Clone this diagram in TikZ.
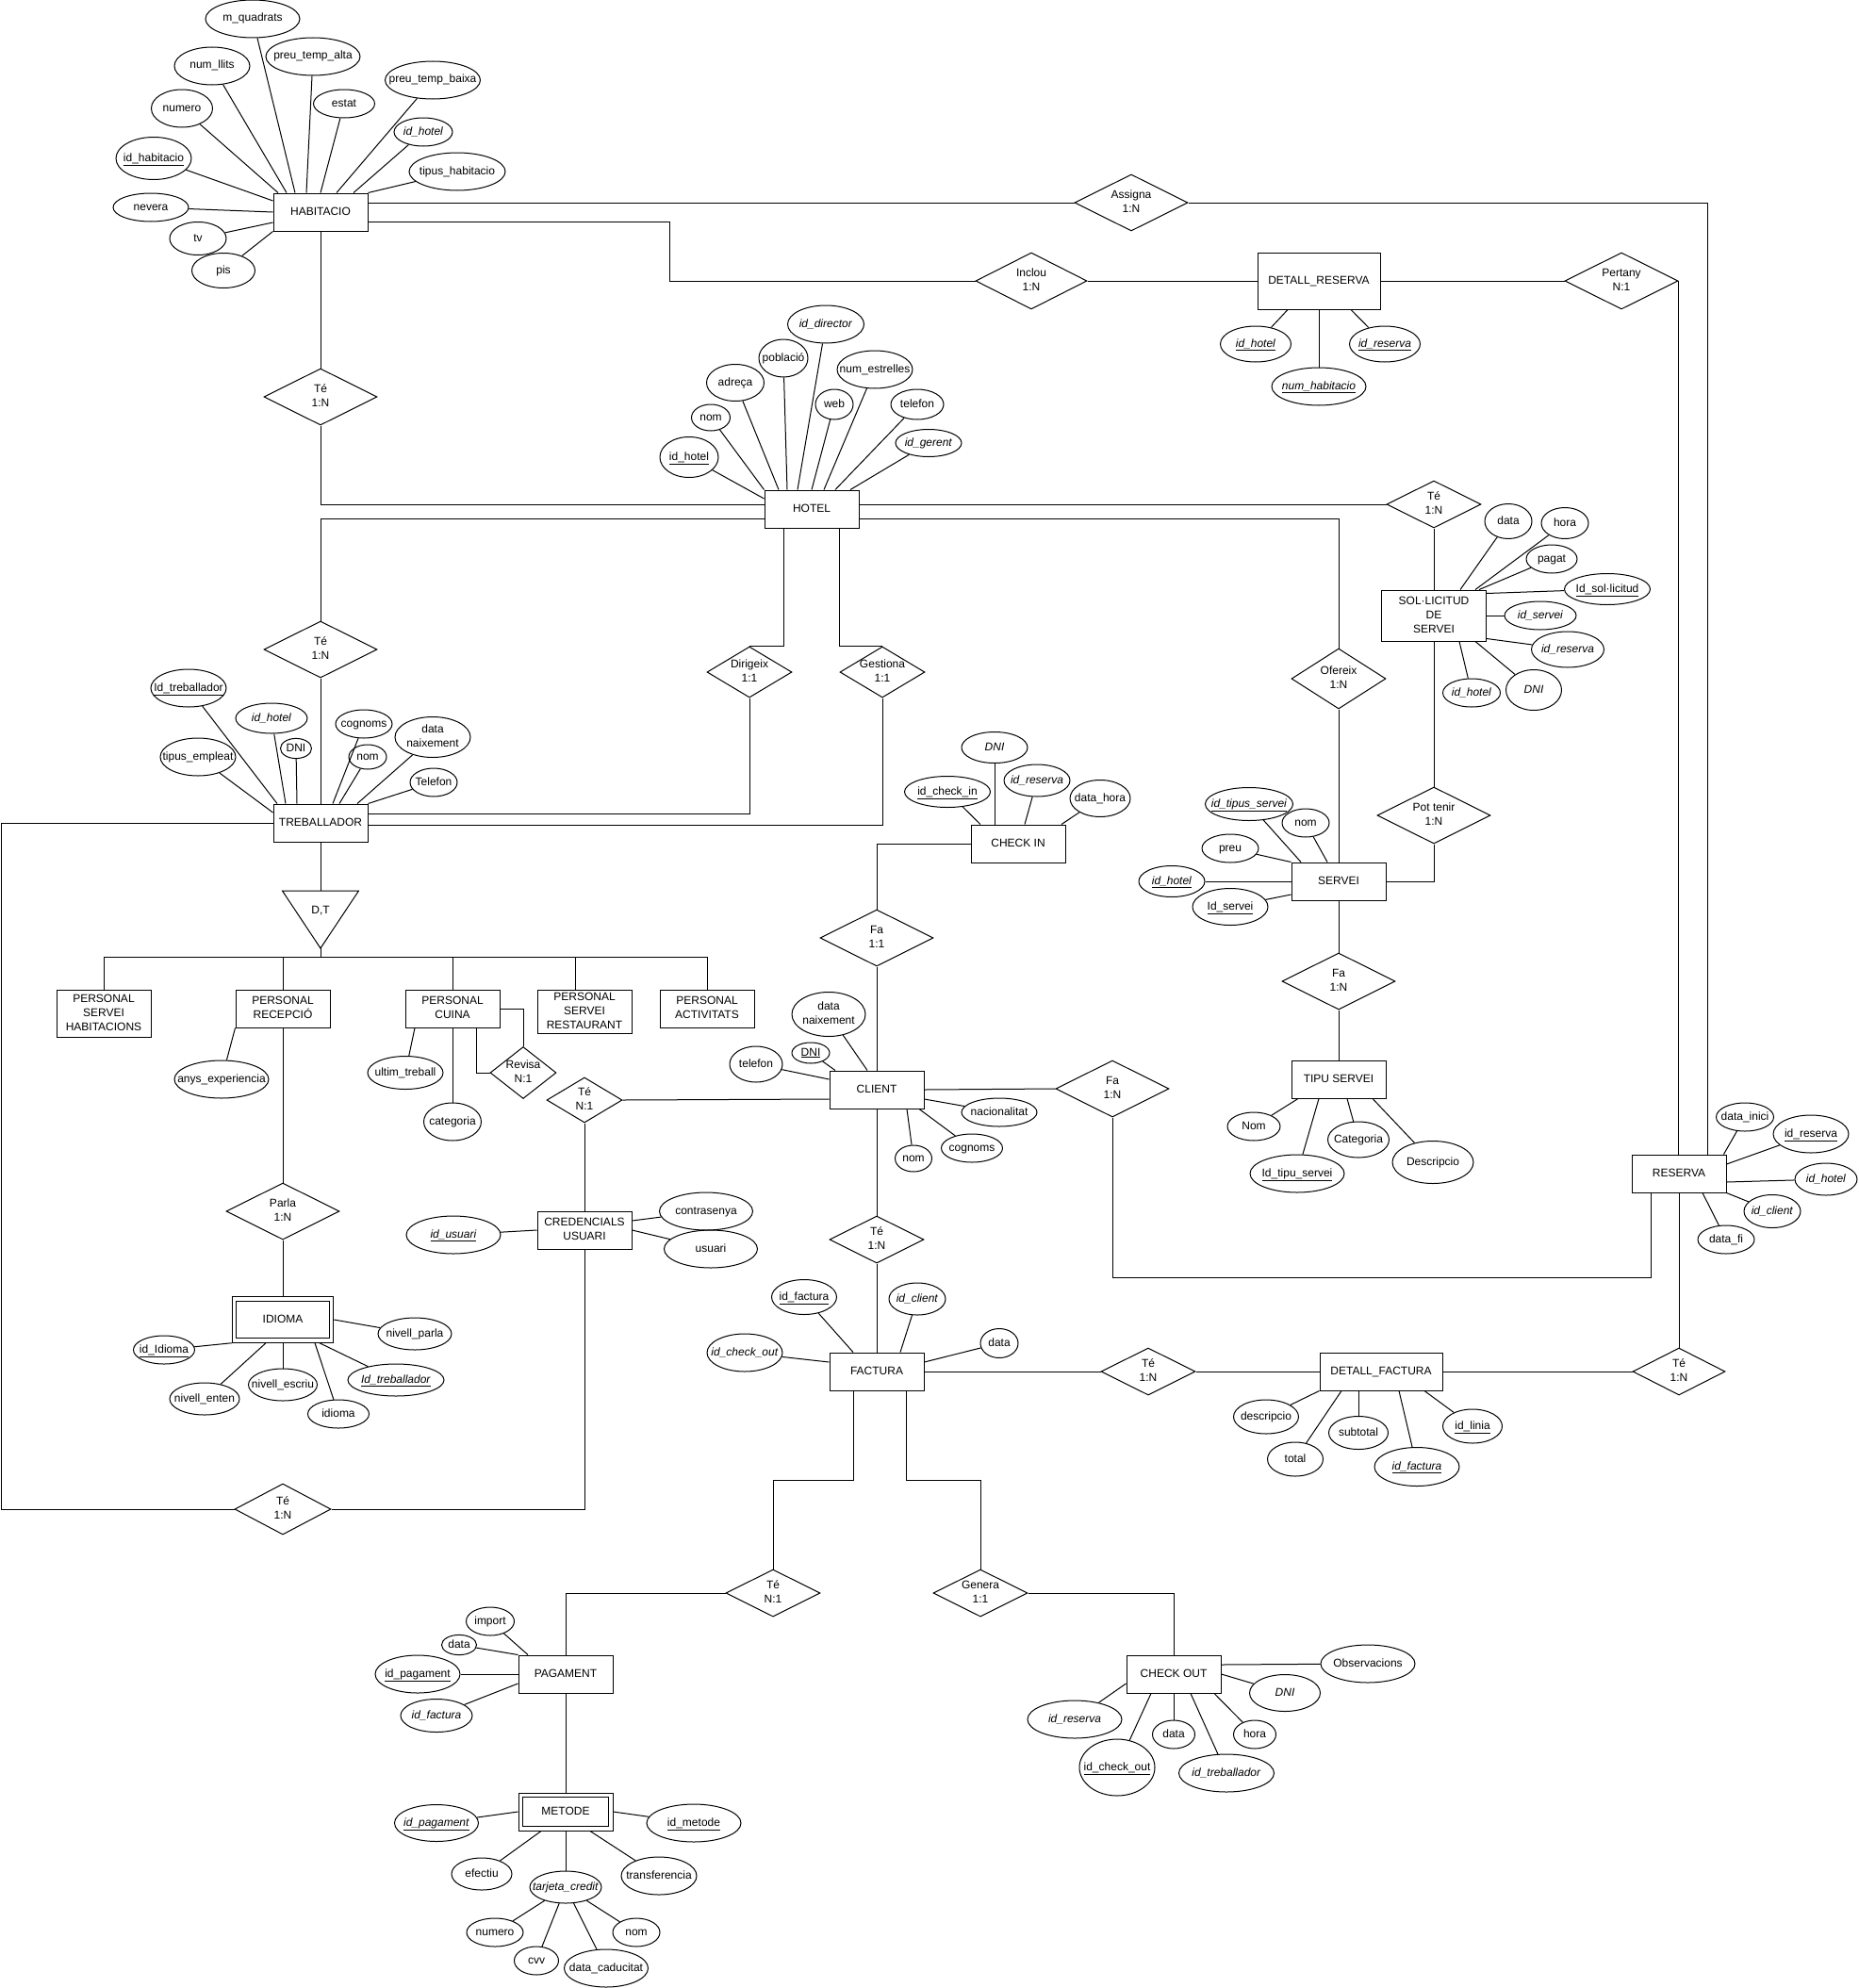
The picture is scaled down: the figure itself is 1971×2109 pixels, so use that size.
\documentclass[tikz,border=0pt]{standalone}
\usepackage{fontspec}
\setmainfont{Liberation Sans}
\usetikzlibrary{shapes.geometric,positioning}
\newcommand{\nodetxt}[1]{\makebox[0pt]{\begin{tabular}{@{}c@{}}#1\end{tabular}}}
\newcommand{\pk}[1]{\underline{#1}}
\newcommand{\fk}[1]{\textit{#1}}
\begin{document}
\begin{tikzpicture}[
            x=1pt, y=-1pt, line width=1pt, on grid,
            font=\fontsize{12}{15}\selectfont,
            entity/.style={rectangle, draw, minimum width=100pt, minimum height=40pt, inner sep=0pt},
            weak/.style={entity, double, double distance=3.5pt, outer sep=2.75pt},
            rel/.style 2 args={diamond, draw, minimum width=#1, minimum height=#2, inner sep=0pt},
            attrib/.style 2 args={ellipse, draw, minimum width=#1, minimum height=#2, inner sep=0pt}
        ]
            \fill[white] (0,0) rectangle (1971,2109);
            \useasboundingbox (0,0) rectangle (1971,2109);

            \node[entity] (hab) at (340,225) {\nodetxt{HABITACIO}};
            \node[entity] (hotel) at (861,540) {\nodetxt{HOTEL}};
            \node[entity, minimum width=130pt, minimum height=60pt] (detres) at (1399,298) {\nodetxt{DETALL\_RESERVA}};
            \node[entity] (treb) at (340,873) {\nodetxt{TREBALLADOR}};
            \node[entity, minimum width=111pt, minimum height=54pt] (sol) at (1521,653) {\nodetxt{SOL·LICITUD\\DE\\SERVEI}};
            \node[entity] (servei) at (1420,935) {\nodetxt{SERVEI}};
            \node[entity] (tipus) at (1420,1145) {\nodetxt{TIPU SERVEI}};
            \node[entity] (checkin) at (1080,895) {\nodetxt{CHECK IN}};
            \node[entity] (client) at (930,1156) {\nodetxt{CLIENT}};
            \node[entity] (reserva) at (1781,1245) {\nodetxt{RESERVA}};
            \node[entity] (cred) at (620,1305) {\nodetxt{CREDENCIALS\\USUARI}};
            \node[weak, minimum width=103pt, minimum height=44pt] (idioma) at (300,1400) {\nodetxt{IDIOMA}};
            \node[entity] (factura) at (930,1455) {\nodetxt{FACTURA}};
            \node[entity, minimum width=130pt] (detfac) at (1465,1455) {\nodetxt{DETALL\_FACTURA}};
            \node[entity] (pagament) at (600,1776) {\nodetxt{PAGAMENT}};
            \node[weak, minimum width=95.5pt, minimum height=35.5pt] (metode) at (600,1922) {\nodetxt{METODE}};
            \node[entity] (checkout) at (1245,1776) {\nodetxt{CHECK OUT}};
            \node[entity, minimum height=50pt] (psh) at (110,1075) {\nodetxt{PERSONAL\\SERVEI\\HABITACIONS}};
            \node[entity] (prec) at (300,1070) {\nodetxt{PERSONAL\\RECEPCIÓ}};
            \node[entity] (pcui) at (480,1070) {\nodetxt{PERSONAL\\CUINA}};
            \node[entity, minimum height=46pt] (prest) at (620,1073) {\nodetxt{PERSONAL\\SERVEI\\RESTAURANT}};
            \node[entity] (pact) at (750,1070) {\nodetxt{PERSONAL\\ACTIVITATS}};

            \node[rel={120}{60}] (assigna) at (1200,215) {\nodetxt{Assigna\\1:N}};
            \node[rel={118}{60}] (inclou) at (1094,298) {\nodetxt{Inclou\\1:N}};
            \node[rel={120}{60}] (pertany) at (1720,298) {\nodetxt{Pertany\\N:1}};
            \node[rel={120}{60}] (tehab) at (340,421) {\nodetxt{Té\\1:N}};
            \node[rel={120}{60}] (tetreb) at (340,689) {\nodetxt{Té\\1:N}};
            \node[rel={100}{50}] (tesol) at (1521,535) {\nodetxt{Té\\1:N}};
            \node[rel={90}{54}] (dirigeix) at (795,713) {\nodetxt{Dirigeix\\1:1}};
            \node[rel={90}{54}] (gestiona) at (936,713) {\nodetxt{Gestiona\\1:1}};
            \node[rel={100}{64}] (ofereix) at (1420,720) {\nodetxt{Ofereix\\1:N}};
            \node[rel={120}{60}] (pottenir) at (1521,865) {\nodetxt{Pot tenir\\1:N}};
            \node[rel={120}{60}] (fain) at (930,995) {\nodetxt{Fa\\1:1}};
            \node[rel={120}{60}] (faserv) at (1420,1041) {\nodetxt{Fa\\1:N}};
            \node[rel={120}{60}] (fares) at (1180,1155) {\nodetxt{Fa\\1:N}};
            \node[rel={80}{48}] (tecred) at (620,1167) {\nodetxt{Té\\N:1}};
            \node[rel={70}{55}] (revisa) at (555,1138) {\nodetxt{Revisa\\N:1}};
            \node[rel={120}{60}] (parla) at (300,1285) {\nodetxt{Parla\\1:N}};
            \node[rel={100}{50}] (tefac) at (930,1315) {\nodetxt{Té\\1:N}};
            \node[rel={100}{50}] (tedf) at (1218,1455) {\nodetxt{Té\\1:N}};
            \node[rel={98}{50}] (teres) at (1781,1455) {\nodetxt{Té\\1:N}};
            \node[rel={102}{54}] (teusr) at (300,1601) {\nodetxt{Té\\1:N}};
            \node[rel={100}{50}] (tepag) at (820,1690) {\nodetxt{Té\\N:1}};
            \node[rel={100}{50}] (genera) at (1040,1690) {\nodetxt{Genera\\1:1}};

            \node[attrib={100}{40}, above left=205pt and 72pt of hab] (hmq) {\nodetxt{m\_quadrats}};
            \node[attrib={100}{40}, above left=165pt and 8pt of hab] (hpta) {\nodetxt{preu\_temp\_alta}};
            \node[attrib={80}{40}, above left=155pt and 115pt of hab] (hnl) {\nodetxt{num\_llits}};
            \node[attrib={65}{40}, above left=110pt and 147pt of hab] (hnum) {\nodetxt{numero}};
            \node[attrib={65}{30}, above right=115pt and 25pt of hab] (hest) {\nodetxt{estat}};
            \node[attrib={101}{40}, above right=140pt and 119pt of hab] (hptb) {\nodetxt{preu\_temp\_baixa}};
            \node[attrib={62}{30}, above right=85pt and 109pt of hab] (hhot) {\nodetxt{\fk{id\_hotel}}};
            \node[attrib={102}{40}, above right=43pt and 145pt of hab] (htip) {\nodetxt{tipus\_habitacio}};
            \node[attrib={80}{45}, above left=57pt and 177pt of hab] (hid) {\nodetxt{\pk{id\_habitacio}}};
            \node[attrib={80}{30}, above left=5pt and 180pt of hab] (hnev) {\nodetxt{nevera}};
            \node[attrib={60}{35}, below left=28pt and 130pt of hab] (htv) {\nodetxt{tv}};
            \node[attrib={67}{37}, below left=62pt and 103pt of hab] (hpis) {\nodetxt{pis}};

            \node[attrib={62}{43}, above left=55pt and 130pt of hotel] (oid) {\nodetxt{\pk{id\_hotel}}};
            \node[attrib={41}{28}, above left=97pt and 107pt of hotel] (onom) {\nodetxt{nom}};
            \node[attrib={61}{39}, above left=134pt and 81pt of hotel] (oadr) {\nodetxt{adreça}};
            \node[attrib={52}{40}, above left=160pt and 30pt of hotel] (opob) {\nodetxt{població}};
            \node[attrib={81}{40}, above right=196pt and 15pt of hotel] (odir) {\nodetxt{\fk{id\_director}}};
            \node[attrib={40}{32}, above right=111pt and 24pt of hotel] (oweb) {\nodetxt{web}};
            \node[attrib={80}{40}, above right=148pt and 67pt of hotel] (oest) {\nodetxt{num\_estrelles}};
            \node[attrib={56}{32}, above right=111pt and 112pt of hotel] (otel) {\nodetxt{telefon}};
            \node[attrib={70}{29}, above right=70pt and 124pt of hotel] (oger) {\nodetxt{\fk{id\_gerent}}};

            \node[attrib={75}{38}, below left=67pt and 67pt of detres] (drhot) {\nodetxt{\pk{\fk{id\_hotel}}}};
            \node[attrib={100}{40}, below=112pt of detres] (drnum) {\nodetxt{\pk{\fk{num\_habitacio}}}};
            \node[attrib={75}{38}, below right=67pt and 70pt of detres] (drres) {\nodetxt{\pk{\fk{id\_reserva}}}};

            \node[attrib={80}{40}, above left=143pt and 140pt of treb] (wid) {\nodetxt{\pk{Id\_treballador}}};
            \node[attrib={76}{32}, above left=111pt and 52pt of treb] (whot) {\nodetxt{\fk{id\_hotel}}};
            \node[attrib={80}{40}, above left=70pt and 130pt of treb] (wemp) {\nodetxt{tipus\_empleat}};
            \node[attrib={33}{20}, above left=79pt and 26pt of treb] (wdni) {\nodetxt{DNI}};
            \node[attrib={60}{30}, above right=105pt and 46pt of treb] (wcog) {\nodetxt{cognoms}};
            \node[attrib={40}{26}, above right=70pt and 50pt of treb] (wnom) {\nodetxt{nom}};
            \node[attrib={80}{43}, above right=91pt and 119pt of treb] (wnaix) {\nodetxt{data\\naixement}};
            \node[attrib={50}{30}, above right=43pt and 120pt of treb] (wtel) {\nodetxt{Telefon}};

            \node[attrib={50}{37}, above right=100pt and 79pt of sol] (sdata) {\nodetxt{data}};
            \node[attrib={50}{33}, above right=98pt and 139pt of sol] (shora) {\nodetxt{hora}};
            \node[attrib={54}{30}, above right=60pt and 125pt of sol] (spag) {\nodetxt{pagat}};
            \node[attrib={91}{33}, above right=28pt and 184pt of sol] (sid) {\nodetxt{\pk{Id\_sol·licitud}}};
            \node[attrib={76}{30}, right=113pt of sol] (sserv) {\nodetxt{\fk{id\_servei}}};
            \node[attrib={77}{38}, below right=36pt and 142pt of sol] (sres) {\nodetxt{\fk{id\_reserva}}};
            \node[attrib={59}{43}, below right=79pt and 106pt of sol] (sdni) {\nodetxt{\fk{DNI}}};
            \node[attrib={61}{30}, below right=82pt and 40pt of sol] (shot) {\nodetxt{\fk{id\_hotel}}};

            \node[attrib={93}{35}, above left=82pt and 95pt of servei] (vtip) {\nodetxt{\pk{\fk{id\_tipus\_servei}}}};
            \node[attrib={50}{30}, above left=62pt and 35pt of servei] (vnom) {\nodetxt{nom}};
            \node[attrib={60}{30}, above left=35pt and 115pt of servei] (vpreu) {\nodetxt{preu}};
            \node[attrib={70}{33}, left=177pt of servei] (vhot) {\nodetxt{\pk{\fk{id\_hotel}}}};
            \node[attrib={80}{39}, below left=27pt and 115pt of servei] (vid) {\nodetxt{\pk{Id\_servei}}};

            \node[attrib={56}{30}, below left=50pt and 90pt of tipus] (tnom) {\nodetxt{Nom}};
            \node[attrib={100}{40}, below left=100pt and 44pt of tipus] (tid) {\nodetxt{\pk{Id\_tipu\_servei}}};
            \node[attrib={65}{38}, below right=64pt and 21pt of tipus] (tcat) {\nodetxt{Categoria}};
            \node[attrib={86}{45}, below right=88pt and 100pt of tipus] (tdesc) {\nodetxt{Descripcio}};

            \node[attrib={61}{30}, above right=60pt and 70pt of reserva] (rini) {\nodetxt{data\_inici}};
            \node[attrib={80}{40}, above right=42pt and 140pt of reserva] (rid) {\nodetxt{\pk{id\_reserva}}};
            \node[attrib={66}{34}, below right=6pt and 156pt of reserva] (rhot) {\nodetxt{\fk{id\_hotel}}};
            \node[attrib={60}{35}, below right=40pt and 99pt of reserva] (rcli) {\nodetxt{\fk{id\_client}}};
            \node[attrib={60}{30}, below right=70pt and 50pt of reserva] (rfi) {\nodetxt{data\_fi}};

            \node[attrib={70}{33}, above left=102pt and 25pt of checkin] (cidni) {\nodetxt{\fk{DNI}}};
            \node[attrib={91}{33}, above left=55pt and 75pt of checkin] (ciid) {\nodetxt{\pk{id\_check\_in}}};
            \node[attrib={70}{34}, above right=67pt and 20pt of checkin] (cires) {\nodetxt{\fk{id\_reserva}}};
            \node[attrib={64}{39}, above right=48pt and 87pt of checkin] (cidh) {\nodetxt{data\_hora}};

            \node[attrib={56}{38}, above left=27pt and 128pt of client] (cltel) {\nodetxt{telefon}};
            \node[attrib={40}{22}, above left=39pt and 70pt of client] (cldni) {\nodetxt{\pk{DNI}}};
            \node[attrib={78}{47}, above left=80pt and 51pt of client] (clnaix) {\nodetxt{data\\naixement}};
            \node[attrib={80}{30}, below right=24pt and 130pt of client] (clnac) {\nodetxt{nacionalitat}};
            \node[attrib={65}{30}, below right=62pt and 101pt of client] (clcog) {\nodetxt{cognoms}};
            \node[attrib={39}{28}, below right=73pt and 39pt of client] (clnom) {\nodetxt{nom}};

            \node[attrib={69}{37}, above left=79pt and 77pt of factura] (fid) {\nodetxt{\pk{id\_factura}}};
            \node[attrib={60}{34}, above right=77pt and 43pt of factura] (fcli) {\nodetxt{\fk{id\_client}}};
            \node[attrib={40}{31}, above right=30pt and 130pt of factura] (fdata) {\nodetxt{data}};
            \node[attrib={80}{40}, above left=20pt and 140pt of factura] (fco) {\nodetxt{\fk{id\_check\_out}}};

            \node[attrib={69}{36}, below left=48pt and 122pt of detfac] (dfdesc) {\nodetxt{descripcio}};
            \node[attrib={59}{36}, below left=93pt and 91pt of detfac] (dftot) {\nodetxt{total}};
            \node[attrib={63}{35}, below left=65pt and 24pt of detfac] (dfsub) {\nodetxt{subtotal}};
            \node[attrib={90}{41}, below right=101pt and 38pt of detfac] (dffac) {\nodetxt{\pk{\fk{id\_factura}}}};
            \node[attrib={63}{36}, below right=58pt and 97pt of detfac] (dflin) {\nodetxt{\pk{id\_linia}}};

            \node[attrib={51}{30}, above left=56pt and 80pt of pagament] (pimp) {\nodetxt{import}};
            \node[attrib={37}{20}, above left=31pt and 113pt of pagament] (pdata) {\nodetxt{data}};
            \node[attrib={90}{40}, left=157pt of pagament] (pid) {\nodetxt{\pk{id\_pagament}}};
            \node[attrib={76}{35}, below left=44pt and 137pt of pagament] (pfac) {\nodetxt{\fk{id\_factura}}};

            \node[attrib={89}{39}, below left=12pt and 137pt of metode] (mpag) {\nodetxt{\pk{\fk{id\_pagament}}}};
            \node[attrib={100}{40}, below right=12pt and 136pt of metode] (mid) {\nodetxt{\pk{id\_metode}}};
            \node[attrib={64}{34}, below left=66pt and 89pt of metode] (mefe) {\nodetxt{efectiu}};
            \node[attrib={76}{34}, below=80pt of metode] (mtar) {\nodetxt{\fk{tarjeta\_credit}}};
            \node[attrib={80}{40}, below right=68pt and 99pt of metode] (mtra) {\nodetxt{transferencia}};
            \node[attrib={60}{30}, below left=48pt and 75pt of mtar] (knum) {\nodetxt{numero}};
            \node[attrib={47}{30}, below left=78pt and 31pt of mtar] (kcvv) {\nodetxt{cvv}};
            \node[attrib={89}{40}, below right=86pt and 43pt of mtar] (kcad) {\nodetxt{data\_caducitat}};
            \node[attrib={50}{30}, below right=48pt and 75pt of mtar] (knom) {\nodetxt{nom}};

            \node[attrib={100}{40}, above right=11pt and 206pt of checkout] (coobs) {\nodetxt{Observacions}};
            \node[attrib={75}{39}, below right=20pt and 118pt of checkout] (codni) {\nodetxt{\fk{DNI}}};
            \node[attrib={45}{30}, below right=64pt and 86pt of checkout] (cohora) {\nodetxt{hora}};
            \node[attrib={101}{40}, below right=105pt and 56pt of checkout] (cotreb) {\nodetxt{\fk{id\_treballador}}};
            \node[attrib={45}{30}, below=64pt of checkout] (codata) {\nodetxt{data}};
            \node[attrib={80}{60}, below left=99pt and 60pt of checkout] (coid) {\nodetxt{\pk{id\_check\_out}}};
            \node[attrib={100}{40}, below left=48pt and 105pt of checkout] (cores) {\nodetxt{\fk{id\_reserva}}};

            \node[attrib={100}{40}, below left=5pt and 139pt of cred] (cruid) {\nodetxt{\pk{\fk{id\_usuari}}}};
            \node[attrib={99}{40}, above right=20pt and 129pt of cred] (crpass) {\nodetxt{contrasenya}};
            \node[attrib={99}{40}, below right=20pt and 134pt of cred] (crusr) {\nodetxt{usuari}};

            \node[attrib={100}{40}, below left=75pt and 65pt of prec] (ranys) {\nodetxt{anys\_experiencia}};
            \node[attrib={80}{35}, below left=68pt and 50pt of pcui] (cuiult) {\nodetxt{ultim\_treball}};
            \node[attrib={61}{40}, below=120pt of pcui] (cuicat) {\nodetxt{categoria}};

            \node[attrib={65}{30}, below left=32pt and 126pt of idioma] (iid) {\nodetxt{\pk{id\_Idioma}}};
            \node[attrib={78}{34}, below right=15pt and 140pt of idioma] (iparla) {\nodetxt{nivell\_parla}};
            \node[attrib={74}{34}, below left=84pt and 83pt of idioma] (ienten) {\nodetxt{nivell\_enten}};
            \node[attrib={73}{34}, below=69pt of idioma] (iescr) {\nodetxt{nivell\_escriu}};
            \node[attrib={102}{34}, below right=64pt and 120pt of idioma] (itreb) {\nodetxt{\pk{\fk{Id\_treballador}}}};
            \node[attrib={65}{30}, below right=100pt and 59pt of idioma] (iidi) {\nodetxt{idioma}};

            \node (isa) at (340,966) {D,T};
            \coordinate (isatop) at (340,945);
            \coordinate (isatip) at (340,1006);
            \coordinate (isabar) at (340,1015);
            \coordinate (leftrail) at (1,873);

            \draw (hmq) -- ([xshift=-27pt]hab.north);
            \draw (hpta) -- ([xshift=-15pt]hab.north);
            \draw (hnl) -- ([xshift=-36pt]hab.north);
            \draw (hnum) -- ([xshift=-45pt]hab.north);
            \draw (hest) -- (hab.north);
            \draw (hptb) -- ([xshift=17pt]hab.north);
            \draw (hhot) -- ([xshift=35pt]hab.north);
            \draw (htip) -- (hab.north east);
            \draw (hid) -- ([yshift=12pt]hab.west);
            \draw (hnev) -- (hab.west);
            \draw (htv) -- ([yshift=-11pt]hab.west);
            \draw (hpis) -- (hab.south west);

            \draw (oid) -- ([yshift=11pt]hotel.west);
            \draw (onom) -- (hotel.north west);
            \draw (oadr) -- ([xshift=-35pt]hotel.north);
            \draw (opob) -- ([xshift=-26pt]hotel.north);
            \draw (odir) -- ([xshift=-15pt]hotel.north);
            \draw (oweb) -- (hotel.north);
            \draw (oest) -- ([xshift=13pt]hotel.north);
            \draw (otel) -- ([xshift=25pt]hotel.north);
            \draw (oger) -- ([xshift=41pt]hotel.north);

            \draw (drhot) -- ([xshift=-33pt]detres.south);
            \draw (drnum) -- (detres.south);
            \draw (drres) -- ([xshift=34pt]detres.south);

            \draw (wid) -- ([xshift=-46pt]treb.north);
            \draw (whot) -- ([xshift=-37pt]treb.north);
            \draw (wemp) -- ([yshift=11pt]treb.west);
            \draw (wdni) -- ([xshift=-25pt]treb.north);
            \draw (wcog) -- ([xshift=13pt]treb.north);
            \draw (wnom) -- ([xshift=20pt]treb.north);
            \draw (wnaix) -- ([xshift=39pt]treb.north);
            \draw (wtel) -- (treb.north east);

            \draw (sdata) -- ([xshift=28pt]sol.north);
            \draw (shora) -- ([xshift=44pt]sol.north);
            \draw (spag) -- ([xshift=48pt]sol.north);
            \draw (sid) -- ([yshift=-4pt]sol.north east);
            \draw (sserv) -- (sol.east);
            \draw (sres) -- ([yshift=3pt]sol.south east);
            \draw (sdni) -- ([xshift=44pt]sol.south);
            \draw (shot) -- ([xshift=27pt]sol.south);

            \draw (vtip) -- ([xshift=-40pt]servei.north);
            \draw (vnom) -- ([xshift=-12pt]servei.north);
            \draw (vpreu) -- (servei.north west);
            \draw (vhot) -- (servei.west);
            \draw (vid) -- ([yshift=-14pt]servei.west);

            \draw (tnom) -- ([xshift=-43pt]tipus.south);
            \draw (tid) -- ([xshift=-21pt]tipus.south);
            \draw (tcat) -- ([xshift=9pt]tipus.south);
            \draw (tdesc) -- ([xshift=36pt]tipus.south);

            \draw (rini) -- ([xshift=-3pt]reserva.north east);
            \draw (rid) -- ([yshift=10pt]reserva.east);
            \draw (rhot) -- ([yshift=-9pt]reserva.east);
            \draw (rcli) -- (reserva.south east);
            \draw (rfi) -- ([xshift=25pt]reserva.south);

            \draw (ciid) -- ([xshift=-40pt]checkin.north);
            \draw (cidni) -- ([xshift=-25pt]checkin.north);
            \draw (cires) -- ([xshift=7pt]checkin.north);
            \draw (cidh) -- ([xshift=46pt]checkin.north);

            \draw (cltel) -- ([yshift=11pt]client.west);
            \draw (cldni) -- ([xshift=-44pt]client.north);
            \draw (clnaix) -- ([xshift=-10pt]client.north);
            \draw (clnac) -- ([yshift=-10pt]client.east);
            \draw (clcog) -- ([xshift=45pt]client.south);
            \draw (clnom) -- ([xshift=32pt]client.south);

            \draw (fid) -- ([xshift=-25pt]factura.north);
            \draw (fcli) -- ([xshift=25pt]factura.north);
            \draw (fdata) -- ([yshift=10pt]factura.east);
            \draw (fco) -- ([yshift=10pt]factura.west);

            \draw (dfdesc) -- (detfac.south west);
            \draw (dftot) -- ([xshift=-42pt]detfac.south);
            \draw (dfsub) -- ([xshift=-24pt]detfac.south);
            \draw (dffac) -- ([xshift=19pt]detfac.south);
            \draw (dflin) -- ([xshift=46pt]detfac.south);

            \draw (pimp) -- ([xshift=-40pt]pagament.north);
            \draw (pdata) -- (pagament.north west);
            \draw (pid) -- (pagament.west);
            \draw (pfac) -- ([yshift=-10pt]pagament.west);

            \draw (mpag) -- (metode.west);
            \draw (mid) -- (metode.east);
            \draw (mefe) -- ([xshift=-26pt]metode.south);
            \draw (mtar) -- (metode.south);
            \draw (mtra) -- ([xshift=26pt]metode.south);
            \draw (knum) -- (mtar);
            \draw (kcvv) -- (mtar);
            \draw (kcad) -- (mtar);
            \draw (knom) -- (mtar);

            \draw (coobs) -- ([yshift=10pt]checkout.east);
            \draw (codni) -- (checkout.east);
            \draw (cohora) -- ([xshift=43pt]checkout.south);
            \draw (cotreb) -- ([xshift=18pt]checkout.south);
            \draw (codata) -- (checkout.south);
            \draw (coid) -- ([xshift=-24pt]checkout.south);
            \draw (cores) -- ([yshift=-10pt]checkout.west);

            \draw (cruid) -- (cred.west);
            \draw (crpass) -- ([yshift=10pt]cred.east);
            \draw (crusr) -- (cred.east);

            \draw (ranys) -- (prec.south west);
            \draw (cuiult) -- ([xshift=-40pt]pcui.south);
            \draw (cuicat) -- (pcui.south);

            \draw (iid) -- (idioma.south west);
            \draw (iparla) -- (idioma.east);
            \draw (ienten) -- ([xshift=-18pt]idioma.south);
            \draw (iescr) -- (idioma.south);
            \draw (itreb) -- ([xshift=39pt]idioma.south);
            \draw (iidi) -- ([xshift=34pt]idioma.south);

            \draw ([yshift=10pt]hab.east) -- (assigna.west);
            \draw (assigna.east) -| ([xshift=30pt]reserva.north);
            \draw ([yshift=-10pt]hab.east) -- ++(320,0) |- (inclou.west);
            \draw (inclou.east) -- (detres.west);
            \draw (detres.east) -- (pertany.west);
            \draw (pertany.east) -- (pertany.east |- reserva.north);
            \draw (hab.south) -- (tehab.north);
            \draw (tehab.south) |- ([yshift=5pt]hotel.west);
            \draw ([yshift=-10pt]hotel.west) -| (tetreb.north);
            \draw (tetreb.south) -- (treb.north);
            \draw ([yshift=5pt]hotel.east) -- (tesol.west);
            \draw ([yshift=-10pt]hotel.east) -| (ofereix.north);
            \draw ([xshift=-30pt]hotel.south) |- (dirigeix.north);
            \draw ([xshift=29pt]hotel.south) |- (gestiona.north);
            \draw (dirigeix.south) |- ([yshift=10pt]treb.east);
            \draw (gestiona.south) |- ([yshift=-2pt]treb.east);
            \draw (ofereix.south) -- (servei.north);
            \draw (tesol.south) -- (sol.north);
            \draw (sol.south) -- (pottenir.north);
            \draw (pottenir.south) |- (servei.east);
            \draw (servei.south) -- (faserv.north);
            \draw (faserv.south) -- (tipus.north);
            \draw (checkin.west) -| (fain.north);
            \draw (fain.south) -- (client.north);
            \draw (client.east) -- (fares.west);
            \draw (fares.south) -- ++(0,170) -| ([xshift=-30pt]reserva.south);
            \draw ([yshift=-10pt]client.west) -- (tecred.east);
            \draw (tecred.south) -- (cred.north);
            \draw (cred.south) |- (teusr.east);
            \draw (treb.west) -- (leftrail) |- (teusr.west);
            \draw (client.south) -- (tefac.north);
            \draw (tefac.south) -- (factura.north);
            \draw (factura.east) -- (tedf.west);
            \draw (tedf.east) -- (detfac.west);
            \draw (detfac.east) -- (teres.west);
            \draw (teres.north) -- (reserva.south);
            \draw ([xshift=-25pt]factura.south) -- ++(0,95) -| (tepag.north);
            \draw ([xshift=31pt]factura.south) -- ++(0,95) -| (genera.north);
            \draw (tepag.west) -| (pagament.north);
            \draw (genera.east) -| (checkout.north);
            \draw (pagament.south) -- (metode.north);

            \draw ([xshift=-40.5pt]isatop) -- ([xshift=40.5pt]isatop) -- (isatip) -- cycle;
            \draw (treb.south) -- (isatop);
            \draw (isatip) -- (isabar);
            \draw (psh.north) |- (isabar) -| (pact.north);
            \draw (prec.north) -- (prec.north |- isabar);
            \draw (pcui.north) -- (pcui.north |- isabar);
            \draw ([xshift=-10pt]prest.north) -- ([xshift=-10pt]prest.north |- isabar);
            \draw (prec.south) -- (parla.north);
            \draw (parla.south) -- (idioma.north);
            \draw (pcui.east) -| (revisa.north);
            \draw ([xshift=25pt]pcui.south) |- (revisa.west);
        \end{tikzpicture}
\end{document}
